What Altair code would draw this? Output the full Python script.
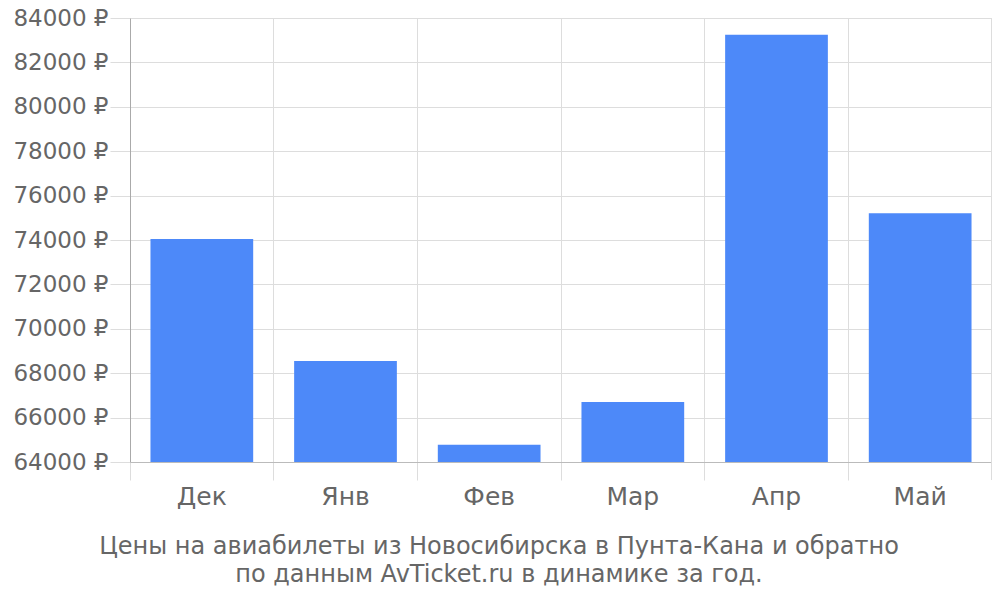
import altair as alt
import pandas as pd

months = ["Дек", "Янв", "Фев", "Мар", "Апр", "Май"]
prices = [74050, 68550, 64780, 66700, 83250, 75200]
y_ticks = [64000, 66000, 68000, 70000, 72000, 74000, 76000, 78000, 80000, 82000, 84000]

df = pd.DataFrame({"month": months, "price": prices})

W, H = 862, 444
grid = "#dddddd"
txt = "#666666"

bars = alt.Chart(df).mark_bar(color="#4d89f9", width=alt.RelativeBandSize(0.715)).encode(
    x=alt.X("month:N", sort=months, title=None,
            scale=alt.Scale(paddingInner=0, paddingOuter=0),
            axis=alt.Axis(bandPosition=0, grid=True, gridColor=grid, tickColor=grid,
                          tickSize=18, domainColor="#bbbbbb", labelAngle=0,
                          labelFontSize=25, labelColor=txt, labelFont="DejaVu Sans",
                          labelPadding=4)),
    y=alt.Y("price:Q", title=None,
            scale=alt.Scale(domain=[64000, 84000], zero=False, nice=False),
            axis=alt.Axis(values=y_ticks, grid=True, gridColor=grid, tickColor=grid,
                          tickSize=20, domainColor="#aaaaaa",
                          labelExpr="format(datum.value, 'd') + ' ₽'",
                          labelFontSize=23, labelColor=txt, labelFont="DejaVu Sans",
                          labelPadding=2)),
    y2=alt.datum(64000),
)

edge = alt.Chart(df).mark_rule(color=grid).encode(
    x=alt.value(W), y=alt.value(0), y2=alt.value(H + 18)
)

chart = alt.layer(bars, edge).properties(
    width=W, height=H,
    padding={"left": 122, "top": 10, "right": 0, "bottom": 128},
    autosize=alt.AutoSizeParams(type="none"),
    title=alt.TitleParams(
        ["Цены на авиабилеты из Новосибирска в Пунта-Кана и обратно",
         "по данным AvTicket.ru в динамике за год."],
        orient="bottom", anchor="middle", dx=-62, offset=26,
        fontSize=24, font="DejaVu Sans", fontWeight="normal", color=txt,
        lineHeight=28,
    ),
).configure_view(stroke=None)

chart.save("out.html", embed_options={"renderer": "svg", "actions": False})
